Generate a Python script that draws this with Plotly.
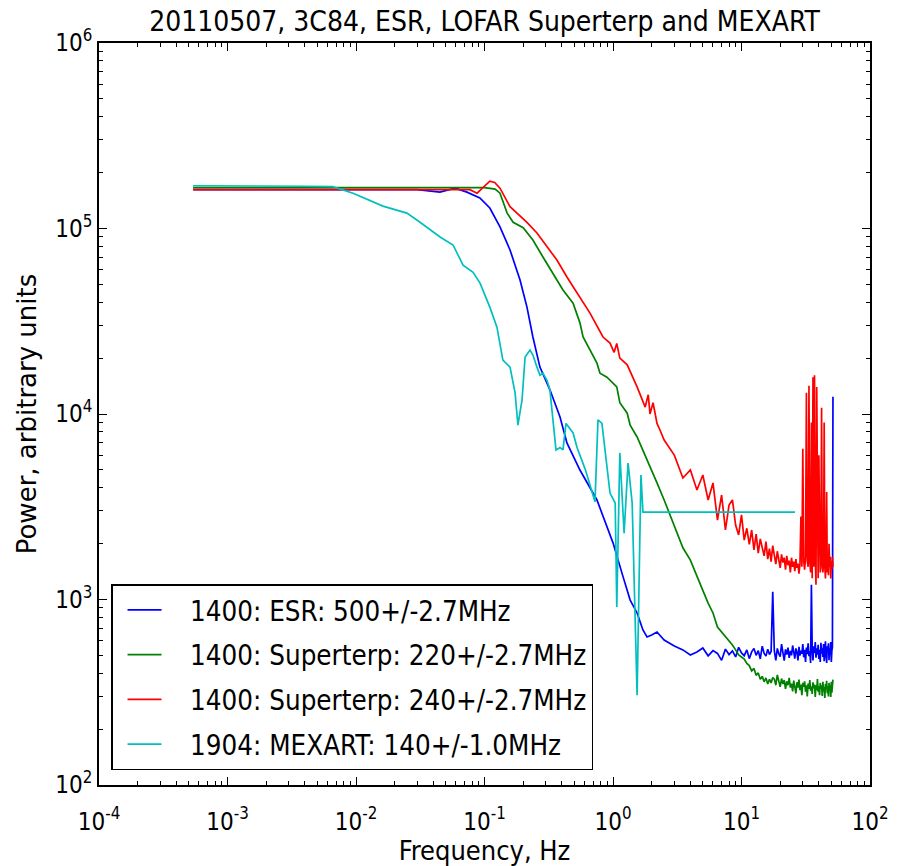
import plotly.graph_objects as go

# ---------------- data ----------------
# shared high-frequency grid (Hz) used for the noisy tails
hf_freq = [2.5, 3.0, 3.5, 4.0, 4.5, 5.0, 5.5, 6.0, 6.5, 7.0, 7.5, 8.0, 8.5, 9.0, 9.5, 10.0,
           10.5, 11.0, 11.5, 12.0, 12.5, 13.0, 13.5, 14.0, 14.5, 15.0, 15.5, 16.0, 16.5, 17.0,
           17.5, 18.0, 18.5, 19.0, 19.5, 20.0, 20.5, 21.0, 21.5, 22.0, 22.5, 23.0, 23.5, 24.0,
           24.5, 25.0, 25.5, 26.0, 26.5, 27.0, 27.5, 28.0, 28.5, 29.0, 29.5, 30.0, 30.5, 31.0,
           31.5, 32.0, 32.5, 33.0, 33.5, 34.0, 34.5, 35.0, 35.5, 36.0, 36.5, 37.0, 37.5, 38.0,
           38.5, 39.0, 39.5, 40.0, 40.5, 41.0, 41.5, 42.0, 42.5, 43.0, 43.5, 44.0, 44.5, 45.0,
           45.5, 46.0, 46.5, 47.0, 47.5, 48.0, 48.5, 49.0, 49.5, 50.0, 50.5, 51.0, 51.5]

# 1400: ESR 500 MHz (blue)
esr_freq_lo = [5.4e-4, 1e-3, 3e-3, 1e-2, 3e-2, 4.5e-2, 5.0e-2, 5.9e-2, 7.3e-2, 9.2e-2, 0.110,
               0.132, 0.158, 0.189, 0.214, 0.238, 0.270, 0.323, 0.387, 0.438, 0.553, 0.75,
               1.00, 1.13, 1.20, 1.36, 1.54, 1.71, 1.84, 2.00, 2.20]
esr_pow_lo = [1.62e5, 1.62e5, 1.62e5, 1.62e5, 1.62e5, 1.57e5, 1.60e5, 1.65e5, 1.57e5, 1.46e5,
              1.29e5, 1.02e5, 7.66e4, 5.28e4, 3.77e4, 2.60e4, 1.79e4, 1.35e4, 9.63e3, 6.98e3,
              4.99e3, 3.44e3, 2.02e3, 1.50e3, 1.32e3, 993, 846, 685, 628, 644, 668]
esr_pow_hf = [605, 561, 535, 502, 521, 548, 497, 530, 512, 470, 540, 505, 528, 490, 552, 515,
              498, 535, 480, 522, 545, 500, 530, 478, 560, 512, 495, 540, 505, 525,
              1100, 530, 470, 545, 510, 492, 575, 520, 468, 538, 505, 550, 485, 528,
              500, 565, 515, 480, 545, 520, 470, 555, 498, 530, 510, 575, 488, 535,
              460, 550, 508, 580, 495, 525, 455, 1200, 540, 470, 560, 515, 590, 485,
              545, 505, 570, 478, 535, 460, 585, 510, 548, 490, 575, 465, 530, 595,
              500, 455, 560, 520, 580, 470, 545, 505, 590, 460, 530, 555, 12400]

# 1400: Superterp 220 MHz (green)
st220_freq_lo = [5.4e-4, 1e-3, 1e-2, 5e-2, 0.1, 0.121, 0.132, 0.150, 0.167, 0.200, 0.238, 0.285,
                 0.341, 0.408, 0.489, 0.553, 0.585, 0.750, 0.792, 0.897, 1.07, 1.13, 1.29, 1.36,
                 1.54, 1.71, 1.94, 2.20]
st220_pow_lo = [1.66e5, 1.66e5, 1.66e5, 1.66e5, 1.66e5, 1.63e5, 1.55e5, 1.21e5, 1.08e5, 1.01e5,
                8.67e4, 7.02e4, 5.75e4, 4.66e4, 3.96e4, 3.10e4, 2.60e4, 1.88e4, 1.66e4, 1.58e4,
                1.40e4, 1.15e4, 1.01e4, 8.7e3, 7.52e3, 6.4e3, 5.18e3, 4.25e3]
st220_pow_hf = [3440, 2460, 1900, 1630, 1320, 1120, 957, 846, 711, 668, 637, 605, 569, 535, 502, 490,
                478, 452, 440, 412, 425, 390, 402, 372, 385, 360, 378, 350, 372, 355,
                380, 372, 345, 392, 360, 338, 375, 350, 368, 330, 362, 345, 378, 335,
                352, 320, 365, 340, 312, 358, 335, 370, 325, 348, 305, 355, 338, 362,
                318, 345, 300, 352, 330, 368, 322, 340, 310, 358, 332, 348, 298, 345,
                325, 372, 318, 340, 305, 355, 330, 345, 302, 360, 320, 338, 295, 350,
                328, 365, 312, 340, 300, 355, 322, 345, 298, 360, 315, 342, 370]

# 1400: Superterp 240 MHz (red)
st240_freq_lo = [5.4e-4, 1e-3, 1e-2, 5e-2, 7.7e-2, 8.75e-2, 0.101, 0.110, 0.120, 0.132, 0.158,
                 0.178, 0.214, 0.256, 0.306, 0.366, 0.438, 0.525, 0.662, 0.836, 0.948, 1.02,
                 1.07, 1.13, 1.29, 1.54, 1.78, 1.88, 1.94, 2.05, 2.20, 2.32]
st240_pow_lo = [1.62e5, 1.62e5, 1.62e5, 1.62e5, 1.62e5, 1.55e5, 1.70e5, 1.80e5, 1.77e5, 1.65e5,
                1.31e5, 1.21e5, 1.08e5, 9.46e4, 7.94e4, 6.76e4, 5.48e4, 4.49e4, 3.50e4, 2.60e4,
                2.41e4, 2.15e4, 2.40e4, 2.00e4, 1.84e4, 1.40e4, 1.09e4, 1.27e4, 1.0e4, 1.15e4,
                8.9e3, 8.2e3]
st240_pow_hf = [7240, 6000, 4520, 4990, 3890, 4690, 3440, 4250, 2680, 3660, 2370, 3230, 3440, 2520,
                2230, 2860, 2090, 2420, 1980, 2370, 1850, 2250, 1780, 2120, 1900, 1720, 2050, 1650,
                1880, 1600, 1950, 1700, 1550, 1820, 1620, 1480, 1750, 1580, 1680, 1450, 1720, 1530,
                1620, 1400, 1680, 1500, 1600, 1420, 1650, 1480, 1560, 1380,
                1550, 2800, 1500, 6500, 1600, 1450, 1700, 13000, 1600, 1500, 14200, 1600, 1400,
                9000, 1300, 15800, 1500, 16200, 1700, 1200, 14000, 1500, 1300, 6000, 1600, 1400,
                1700, 10800, 1500, 1400, 1600, 9000, 1500, 1300, 1700, 3800, 1400, 1600, 1350,
                2000, 1500, 1700, 1300, 1600, 1450, 1700, 1500]

# 1904: MEXART 140 MHz (cyan)
mex_freq = [5.4e-4, 1e-3, 2e-3, 4e-3, 6.6e-3, 9.48e-3, 1.62e-2, 2.49e-2, 3.15e-2, 4.51e-2,
            5.69e-2, 6.81e-2, 8.15e-2, 9.23e-2, 0.110, 0.125, 0.139, 0.158, 0.173, 0.182,
            0.196, 0.207, 0.226, 0.238, 0.256, 0.270, 0.285, 0.306, 0.323, 0.341,
            0.360, 0.387, 0.408, 0.431, 0.489, 0.525, 0.61, 0.724, 0.764, 0.820,
            0.948, 1.04, 1.07, 1.13, 1.22, 1.31, 1.41, 1.54, 1.65, 1.71, 26.1]
mex_pow = [1.70e5, 1.70e5, 1.70e5, 1.69e5, 1.68e5, 1.55e5, 1.32e5, 1.21e5, 1.08e5, 9.0e4,
           8.15e4, 6.35e4, 5.8e4, 5.08e4, 3.77e4, 2.94e4, 1.95e4, 1.79e4, 1.30e4, 8.7e3,
           1.19e4, 2.03e4, 2.21e4, 2.08e4, 1.79e4, 1.62e4, 1.66e4, 1.52e4, 1.35e4, 9.6e3,
           6.4e3, 6.6e3, 6.4e3, 8.9e3, 7.9e3, 6.6e3, 5.0e3, 3.36e3, 9.3e3, 8.9e3,
           3.75e3, 3.31e3, 912, 6.17e3, 2.28e3, 5.44e3, 3.31e3, 305, 4.69e3, 2.96e3, 2.96e3]

series_names = ["1400: ESR: 500+/-2.7MHz",
                "1400: Superterp: 220+/-2.7MHz",
                "1400: Superterp: 240+/-2.7MHz",
                "1904: MEXART: 140+/-1.0MHz"]
series_colors = ["#0000ff", "#008000", "#ff0000", "#00bfbf"]

x_tick_exps = [-4, -3, -2, -1, 0, 1, 2]
y_tick_exps = [2, 3, 4, 5, 6]

# ---------------- figure ----------------
FONT = "DejaVu Sans Condensed, DejaVu Sans, sans-serif"
PAD = "\u00a0\u00a0\u00a0"  # gap between legend sample line and its label

series = [
    (esr_freq_lo + hf_freq, esr_pow_lo + esr_pow_hf),
    (st220_freq_lo + hf_freq, st220_pow_lo + st220_pow_hf),
    (st240_freq_lo + hf_freq, st240_pow_lo + st240_pow_hf),
    (mex_freq, mex_pow),
]

fig = go.Figure()
for i, ((fx, fy), name, col) in enumerate(zip(series, series_names, series_colors)):
    fig.add_trace(go.Scatter(x=fx, y=fy, mode="lines", name=PAD + name, legendgroup=f"g{i}",
                             line=dict(color=col, width=1.7)))


def minor_vals(exps):
    vals = []
    for e in exps[:-1]:
        for m in range(2, 10):
            vals.append(m * 10.0 ** e)
    return vals


axis_common = dict(type="log", showgrid=False, zeroline=False, showline=True,
                   linecolor="black", linewidth=1.5, mirror="allticks",
                   ticks="inside", ticklen=8, tickwidth=1, tickcolor="black",
                   tickfont=dict(family=FONT, size=24, color="black"))

fig.update_xaxes(range=[-4, 2], tickmode="array",
                 tickvals=[10.0 ** e for e in x_tick_exps],
                 ticktext=[f"10<sup>{e}</sup>" for e in x_tick_exps],
                 ticklabelstandoff=14,
                 minor=dict(tickmode="array", tickvals=minor_vals(x_tick_exps), ticks="inside",
                            ticklen=4, tickcolor="black", showgrid=False),
                 title=dict(text="Frequency, Hz", font=dict(family=FONT, size=27, color="black"),
                            standoff=2),
                 **axis_common)
fig.update_yaxes(range=[2, 6], tickmode="array",
                 tickvals=[10.0 ** e for e in y_tick_exps],
                 ticktext=[f"10<sup>{e}</sup>" for e in y_tick_exps],
                 minor=dict(tickmode="array", tickvals=minor_vals(y_tick_exps), ticks="inside",
                            ticklen=4, tickcolor="black", showgrid=False),
                 title=dict(text="Power, arbitrary units",
                            font=dict(family="DejaVu Sans, sans-serif", size=26, color="black"),
                            standoff=11),
                 **axis_common)

fig.update_layout(
    width=906, height=866,
    margin=dict(l=99, r=36, t=43, b=81, autoexpand=False),
    paper_bgcolor="white", plot_bgcolor="white",
    title=dict(text="20110507, 3C84, ESR, LOFAR Superterp and MEXART",
               font=dict(family=FONT, size=28, color="black"),
               x=484.5 / 906, xanchor="center", y=0.976, yanchor="middle"),
    showlegend=True,
    legend=dict(x=0.0156, y=0.0202, xanchor="left", yanchor="bottom",
                bordercolor="black", borderwidth=1.5, bgcolor="white",
                font=dict(family=FONT, size=27.5, color="black"),
                tracegroupgap=6, itemwidth=34, indentation=10),
)

fig.write_html("out.html")
